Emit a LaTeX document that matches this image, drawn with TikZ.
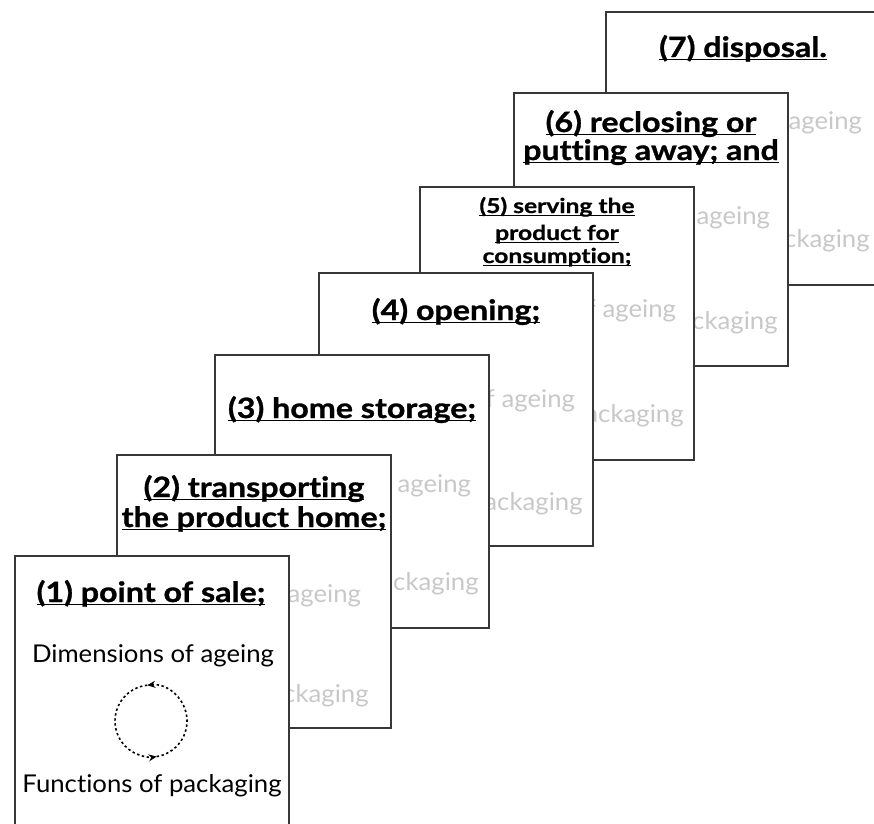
\documentclass[tikz,border=0pt]{standalone}
\usepackage{fontspec}
\setmainfont{Lato}[FakeStretch=1.05, Ligatures=NoCommon]
\newfontfamily\headfont{Lato}[FakeStretch=1.15, FakeBold=1, Ligatures=NoCommon]
\newfontfamily\headfontnarrow{Lato}[FakeStretch=1.2, FakeBold=0.8, Ligatures=NoCommon]
\usetikzlibrary{calc,arrows.meta}

\definecolor{edge}{RGB}{55,55,55}
\definecolor{ghost}{RGB}{200,200,200}

% underline drawn at a fixed depth below the baseline (crosses descenders)
\newsavebox\ulsave
\newcommand\ulbox[1]{\sbox\ulsave{#1}\rlap{\rule[-3.2pt]{\wd\ulsave}{1.6pt}}\usebox\ulsave}

\tikzset{
  card/.style={draw=edge, line width=2pt, fill=white, minimum width=274pt,
    minimum height=273pt, anchor=north west, inner sep=0pt, outer sep=0pt},
  ttl/.style={font=\headfont\fontsize{28}{32}\selectfont\bfseries, anchor=base, inner sep=0pt},
  ttlsmall/.style={font=\headfontnarrow\fontsize{20.5}{24}\selectfont\bfseries, anchor=base, inner sep=0pt},
  body/.style={font=\fontsize{24.5}{28}\selectfont, anchor=base, inner sep=0pt},
  loop/.style={line width=1.6pt, dash pattern=on 2.4pt off 2.6pt,
    -{Stealth[length=8pt,width=7pt]}},
}

% #1 name, #2 left, #3 top, #4 colour of body, #5 baseline of first text,
% #6 baseline of second text, #7 horizontal shift of the body
\newcommand\drawcard[7]{%
  \node[card] (c#1) at (#2,#3) {};
  \node[body, text=#4] (d#1) at ($(c#1.north west)+({138+#7},#5)$) {Dimensions of ageing};
  \node[body, text=#4] (f#1) at ($(c#1.north west)+({137+#7},#6)$) {Functions of packaging};
  \coordinate (o#1) at ($(c#1.north west)+({136+#7},{(#5+#6)/2-6})$);
  \draw[loop, draw=#4, #4] (o#1) ++(81:36) arc[start angle=81, end angle=-96, radius=36];
  \draw[loop, draw=#4, #4] (o#1) ++(-96:36) arc[start angle=-96, end angle=-279, radius=36];
}

\begin{document}
\begin{tikzpicture}[x=1pt, y=-1pt]
  \useasboundingbox (0,0) rectangle (874,823);
  \clip (0,0) rectangle (874,823);

  \drawcard{7}{606}{12}{ghost}{117}{235}{-3}
  \node[ttl] (t7) at ($(c7.north west)+(137,45)$) {\ulbox{(7) disposal.}};

  \drawcard{6}{514}{93}{ghost}{131}{236}{-3}
  \node[ttl] (t6a) at ($(c6.north west)+(137,39)$) {\ulbox{(6) reclosing or}};
  \node[ttl] (t6b) at ($(c6.north west)+(137,67)$) {\ulbox{putting away; and}};

  \drawcard{5}{420}{187}{ghost}{130}{235}{-3}
  \node[ttlsmall] (t5a) at ($(c5.north west)+(137,26)$) {\ulbox{(5) serving the}};
  \node[ttlsmall] (t5b) at ($(c5.north west)+(137,53)$) {\ulbox{product for}};
  \node[ttlsmall] (t5c) at ($(c5.north west)+(137,76)$) {\ulbox{consumption;}};

  \drawcard{4}{319}{273}{ghost}{134}{237}{-3}
  \node[ttl] (t4) at ($(c4.north west)+(137,47)$) {\ulbox{(4) opening;}};

  \drawcard{3}{215}{355}{ghost}{137}{235}{-3}
  \node[ttl] (t3) at ($(c3.north west)+(137,63)$) {\ulbox{(3) home storage;}};

  \drawcard{2}{117}{455}{ghost}{147}{247}{-15}
  \node[ttl] (t2a) at ($(c2.north west)+(137,42)$) {\ulbox{(2) transporting}};
  \node[ttl] (t2b) at ($(c2.north west)+(137,72)$) {\ulbox{the product home;}};

  \drawcard{1}{15}{556}{black}{106}{236}{0}
  \node[ttl] (t1) at ($(c1.north west)+(136,46)$) {\ulbox{(1) point of sale;}};
\end{tikzpicture}
\end{document}
